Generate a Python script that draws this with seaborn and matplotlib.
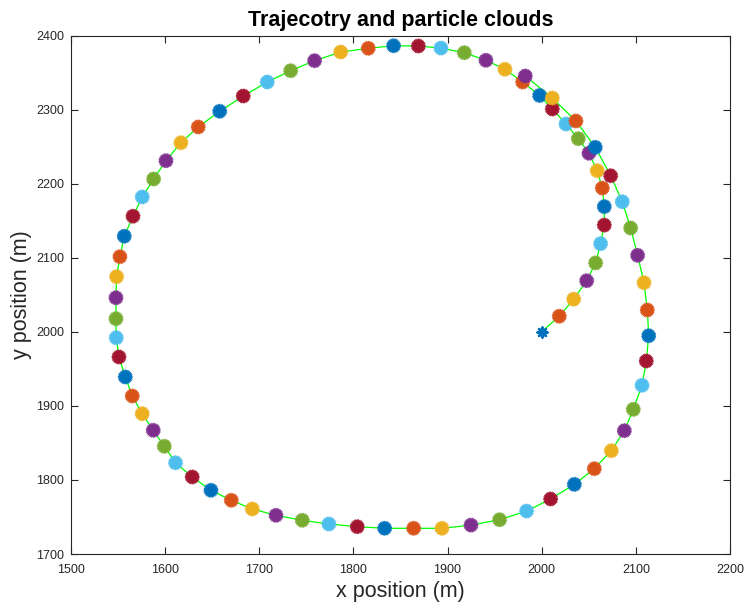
import numpy as np
import pandas as pd
import matplotlib
matplotlib.use("Agg")
import matplotlib.pyplot as plt
import seaborn as sns
from matplotlib.path import Path

# Cloud centres along the trajectory
x_pos = [2000, 2018.7, 2034, 2047.8, 2057.3, 2062.6, 2066.5,
         2066.5, 2064.4, 2059, 2050.2, 2038.9, 2025.8, 2011.3,
         1997.8, 1979.8, 1961, 1940.8, 1917.8, 1893, 1869,
         1842.7, 1815.8, 1786.5, 1758.8, 1733.4, 1708.5, 1683,
         1658, 1635.2, 1616.8, 1600.9, 1587.8, 1575.7, 1565.9,
         1556.6, 1552, 1548.5, 1547.8, 1547.8, 1548.1, 1551,
         1557.7, 1565.1, 1575.7, 1587.4, 1599.1, 1611.1, 1628.8,
         1648.7, 1670.3, 1692.6, 1717.8, 1745.7, 1774, 1804.1,
         1833.2, 1864, 1894.1, 1924.9, 1955.3, 1984, 2009.5,
         2034.7, 2055.9, 2074, 2087.8, 2097.3, 2106.6, 2111.1,
         2113.7, 2112.2, 2108.7, 2101.9, 2094.5, 2085.6, 2073.3,
         2056.9, 2036.4, 2011.3, 1982.6]
y_pos = [2000, 2021, 2044, 2069, 2093, 2119, 2144,
         2169, 2194, 2217.5, 2241, 2260.7, 2280.5, 2300.8,
         2319, 2337.2, 2354.4, 2366.5, 2376.8, 2383, 2385.8,
         2386.2, 2382.7, 2377.7, 2366, 2352.5, 2337.2, 2318.3,
         2297.7, 2276.5, 2255.3, 2231, 2206.3, 2182, 2156,
         2129, 2101.4, 2074.4, 2046, 2017.7, 1992, 1966,
         1939, 1913.3, 1889.4, 1867, 1845.4, 1823.2, 1804,
         1786, 1772.5, 1760.8, 1752.2, 1745.5, 1740.5, 1736.9,
         1734.7, 1734.7, 1734.7, 1739, 1746.3, 1758, 1774.3,
         1794, 1815.2, 1839.5, 1866.5, 1895.3, 1927.7, 1960.6,
         1994.7, 2029.4, 2066.3, 2103.2, 2140.1, 2175.6, 2210.7,
         2249, 2284.6, 2315.6, 2345.3]
cloud_colors = ['#0072BD', '#D95319', '#EDB120', '#7E2F8E',
                '#77AC30', '#4DBEEE', '#A2142F']
x_ticks = [1500, 1600, 1700, 1800, 1900, 2000, 2100, 2200]
y_ticks = [1700, 1800, 1900, 2000, 2100, 2200, 2300, 2400]
title_text = "Trajecotry and particle clouds"
x_label = "x position (m)"
y_label = "y position (m)"

sns.set_style("ticks")
plt.rcParams['font.family'] = ['Liberation Sans', 'DejaVu Sans']

df = pd.DataFrame({"x": x_pos, "y": y_pos})
df["step"] = np.arange(len(df))
df["group"] = ["c%d" % (i % len(cloud_colors)) for i in df["step"]]
pal = {"c%d" % i: c for i, c in enumerate(cloud_colors)}

fig = plt.figure(figsize=(7.47, 6.10), dpi=100)
ax = fig.add_axes([0.0950, 0.0918, 0.8822, 0.8500])

sns.lineplot(data=df, x="x", y="y", sort=False, estimator=None,
             color="#00FF00", linewidth=0.9, ax=ax, zorder=1)

cloud_marker = Path.unit_regular_star(30, 0.8)
clouds = df.iloc[1:]
sns.scatterplot(data=clouds, x="x", y="y", hue="group", palette=pal,
                marker=cloud_marker, s=112, linewidth=0.4, edgecolor="face",
                legend=False, ax=ax, zorder=3)
start = df.iloc[:1]
sns.scatterplot(data=start, x="x", y="y", hue="group", palette=pal,
                marker=(8, 2, 0), s=50, linewidth=1.8,
                legend=False, ax=ax, zorder=4)

ax.set_xlim(1500, 2200)
ax.set_ylim(1700, 2400)
ax.set_xticks(x_ticks)
ax.set_yticks(y_ticks)
ax.tick_params(direction='in', length=5, width=0.8, top=True, right=True,
               labelsize=9, colors='#262626', labelcolor='#262626')
ax.tick_params(axis='x', pad=7)
ax.tick_params(axis='y', pad=5)
for sp in ax.spines.values():
    sp.set_visible(True)
    sp.set_color('#262626')
    sp.set_linewidth(0.8)

ax.set_title(title_text, fontsize=15.5, fontweight='bold', pad=7, color='black')
ax.set_xlabel(x_label, fontsize=15.5, color='#262626', labelpad=4)
ax.set_ylabel(y_label, fontsize=15.5, color='#262626', labelpad=3)

fig.savefig("out.png", dpi=100)
